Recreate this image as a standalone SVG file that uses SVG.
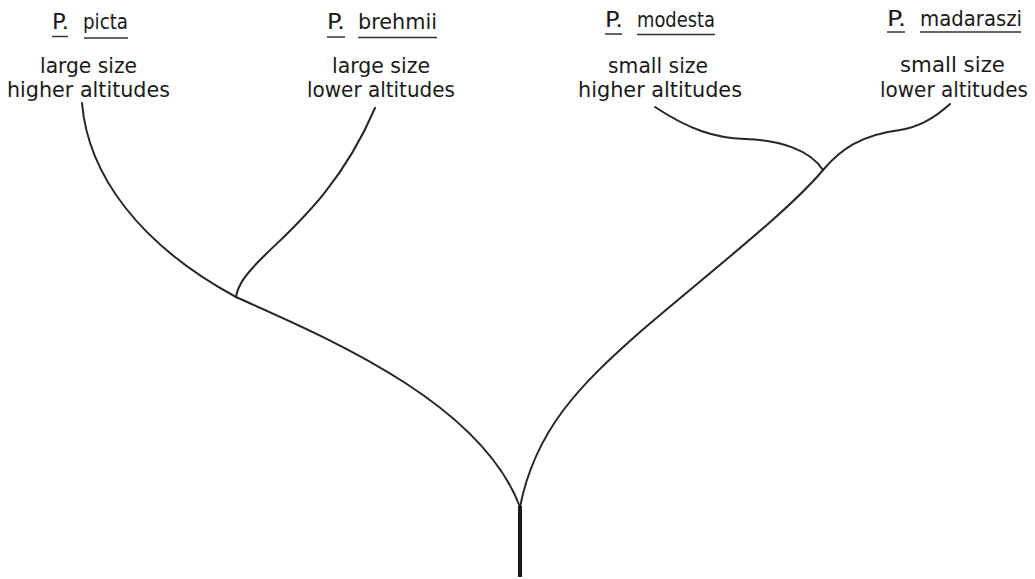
<svg xmlns="http://www.w3.org/2000/svg" width="1035" height="579" viewBox="0 0 1035 579">
<style>
text{font-family:"Liberation Sans Narrow","DejaVu Sans Condensed","Liberation Sans",sans-serif;font-stretch:condensed;fill:#1a1a1a;text-anchor:start}
.t{font-size:22px}
.d{font-size:20.5px}
.u{stroke:#333;stroke-width:1.5;fill:none}
.b{stroke:#262626;stroke-width:2;fill:none;stroke-linecap:round}
</style>
<rect width="1035" height="579" fill="#fff"/>
<g id="picta">
<text class="t" y="29"><tspan x="52" textLength="17" lengthAdjust="spacingAndGlyphs">P.</tspan><tspan x="83" textLength="45" lengthAdjust="spacingAndGlyphs">picta</tspan></text>
<line class="u" x1="52" y1="36.5" x2="68" y2="36.5"/><line class="u" x1="84" y1="38" x2="128" y2="38"/>
<text class="d" x="40" y="73" textLength="97" lengthAdjust="spacingAndGlyphs">large size</text>
<text class="d" x="7" y="97" textLength="163" lengthAdjust="spacingAndGlyphs">higher altitudes</text>
</g>
<g id="brehmii">
<text class="t" y="29"><tspan x="327" textLength="18" lengthAdjust="spacingAndGlyphs">P.</tspan><tspan x="358" textLength="79" lengthAdjust="spacingAndGlyphs">brehmii</tspan></text>
<line class="u" x1="327" y1="37" x2="345" y2="37"/><line class="u" x1="358" y1="37.5" x2="437" y2="37.5"/>
<text class="d" x="332" y="73" textLength="98" lengthAdjust="spacingAndGlyphs">large size</text>
<text class="d" x="307" y="97" textLength="148" lengthAdjust="spacingAndGlyphs">lower altitudes</text>
</g>
<g id="modesta">
<text class="t" y="27"><tspan x="605" textLength="18" lengthAdjust="spacingAndGlyphs">P.</tspan><tspan x="637" textLength="78" lengthAdjust="spacingAndGlyphs">modesta</tspan></text>
<line class="u" x1="605" y1="34" x2="622" y2="34"/><line class="u" x1="637" y1="34.5" x2="715" y2="34.5"/>
<text class="d" x="608" y="73" textLength="100" lengthAdjust="spacingAndGlyphs">small size</text>
<text class="d" x="578" y="97" textLength="164" lengthAdjust="spacingAndGlyphs">higher altitudes</text>
</g>
<g id="madaraszi">
<text class="t" y="26"><tspan x="887" textLength="19" lengthAdjust="spacingAndGlyphs">P.</tspan><tspan x="920" textLength="102" lengthAdjust="spacingAndGlyphs">madaraszi</tspan></text>
<line class="u" x1="887" y1="32" x2="905" y2="32"/><line class="u" x1="920" y1="32" x2="1021" y2="32"/>
<text class="d" x="900" y="72" textLength="105" lengthAdjust="spacingAndGlyphs">small size</text>
<text class="d" x="880" y="97" textLength="148" lengthAdjust="spacingAndGlyphs">lower altitudes</text>
</g>
<g id="connectors">
<path class="b" d="M82,103 C88,175 140,245 236,297"/>
<path class="b" d="M236,297 C320,335 480,400 520,507"/>
<path class="b" d="M375,108 C340,190 290,230 262,258 C245,275 238,285 236,297"/>
<path class="b" d="M520,507 C535,430 580,385 640,332 C710,272 790,210 823,170"/>
<path class="b" d="M655,107 C690,130 715,138 745,139 C780,140 810,150 823,170"/>
<path class="b" d="M823,170 C840,150 860,135 900,130 C920,127 938,115 950,104"/>
<line x1="520" y1="506" x2="520" y2="577" stroke="#1a1a1a" stroke-width="4"/>
</g>
</svg>
